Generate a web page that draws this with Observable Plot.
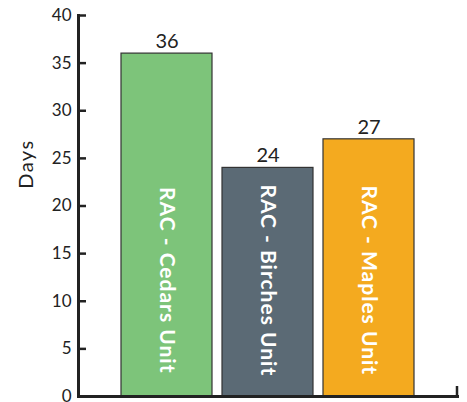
<!DOCTYPE html>
<html>
<head>
<meta charset="utf-8">
<script src="https://cdn.jsdelivr.net/npm/d3@7"></script>
<script src="https://cdn.jsdelivr.net/npm/@observablehq/plot@0.6"></script>
<style>
  html, body { margin: 0; padding: 0; background: #fff; }
  #chart svg { font-family: "Lato", "DejaVu Sans", sans-serif; }
  #chart .unit-label text { letter-spacing: 1px; }
  #chart .y-title text { letter-spacing: 1.5px; }
</style>
</head>
<body>
<div id="chart"></div>
<script>
// Average length of stay per unit
const units = ["RAC - Cedars Unit", "RAC - Birches Unit", "RAC - Maples Unit"];
const days = [36, 24, 27];
const colors = ["#7dc47a", "#5b6a75", "#f4aa1f"];
const yTicks = [0, 5, 10, 15, 20, 25, 30, 35, 40];
const yLabel = "Days";

const data = units.map((unit, i) => ({unit, days: days[i]}));
const ink = "#222";

const chart = Plot.plot({
  width: 467,
  height: 402,
  marginLeft: 78,
  marginRight: 10,
  marginTop: 15,
  marginBottom: 6,
  style: {fontSize: "17px", color: ink, background: "#fff"},
  x: {domain: units, paddingInner: 0.1, paddingOuter: 0.417, axis: null},
  y: {domain: [0, 40]},
  color: {domain: units, range: colors},
  marks: [
    Plot.barY(data, {x: "unit", y: "days", fill: "unit", stroke: "#333", strokeWidth: 1.2}),
    Plot.text(data, {x: "unit", y: "days", text: d => String(d.days), dy: -12, fontSize: 20, fill: ink}),
    Plot.text(data, {x: "unit", y: () => 12.2, text: "unit", rotate: 90, fill: "#fff",
      fontWeight: "bold", fontSize: 21, textAnchor: "middle", className: "unit-label"}),
    Plot.axisY(yTicks, {tickSize: -8, tickPadding: 15, strokeWidth: 2.5, stroke: ink, fontSize: 17, label: null}),
    Plot.text([yLabel], {frameAnchor: "left", y: () => 24.4, dx: -52, rotate: -90, fontSize: 20,
      textAnchor: "middle", fill: ink, className: "y-title"}),
    Plot.frame({anchor: "left", stroke: ink, strokeWidth: 3}),
    Plot.frame({anchor: "bottom", stroke: ink, strokeWidth: 3})
  ]
});

// closing tick at the right end of the baseline
const xr = chart.scale("x").range;
const yr = chart.scale("y").range;
d3.select(chart).append("line")
  .attr("x1", xr[1]).attr("x2", xr[1])
  .attr("y1", yr[0]).attr("y2", yr[0] - 10)
  .attr("stroke", ink).attr("stroke-width", 2.5);

document.getElementById("chart").append(chart);
</script>
</body>
</html>
